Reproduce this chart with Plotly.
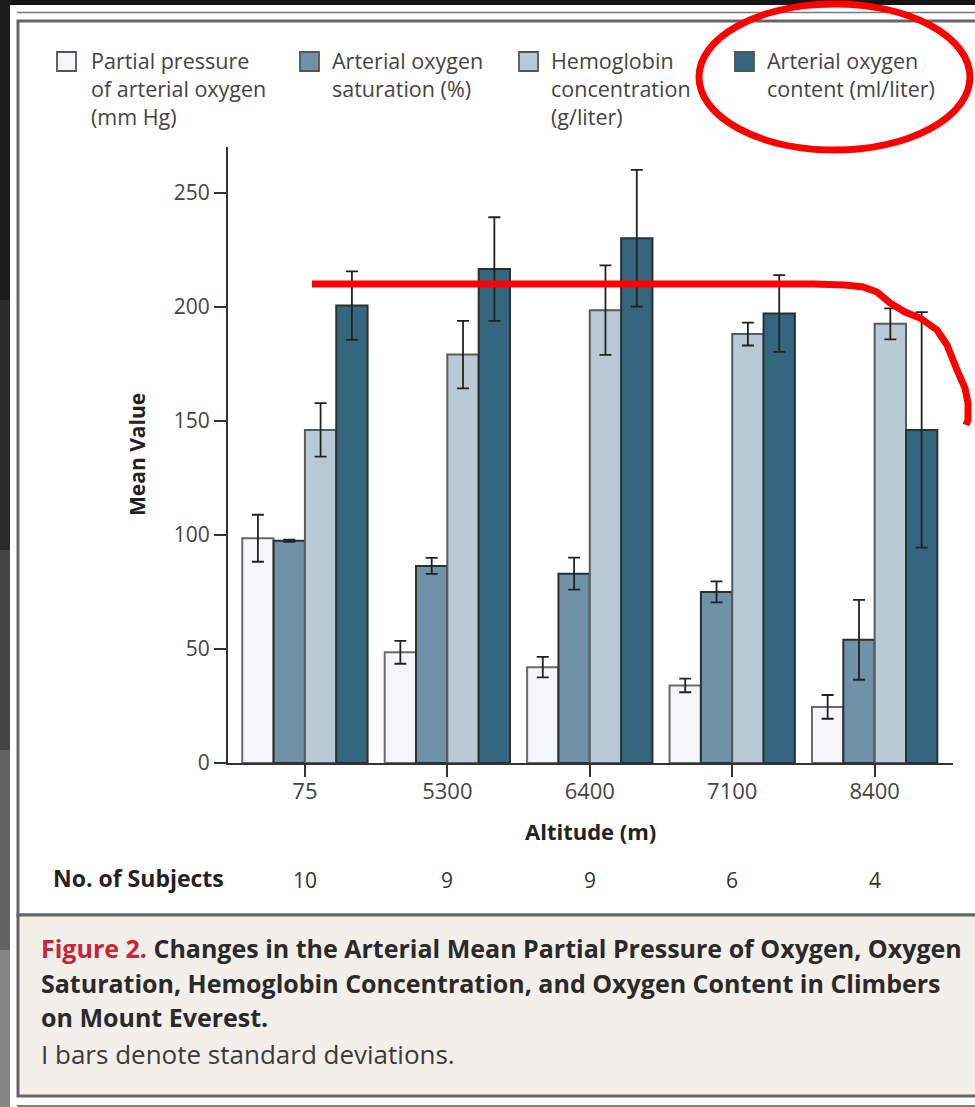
import plotly.graph_objects as go

# ---- data -------------------------------------------------------------
altitudes = ["75", "5300", "6400", "7100", "8400"]
subjects = [10, 9, 9, 6, 4]

pao2 = [98.5, 48.5, 42.0, 34.0, 24.6]
pao2_sd = [10.3, 5.0, 4.5, 3.0, 5.2]

sao2 = [97.4, 86.4, 83.0, 75.0, 54.0]
sao2_sd = [0.5, 3.5, 7.0, 4.6, 17.5]

hb = [146.0, 179.0, 198.5, 188.0, 192.5]
hb_sd = [11.7, 14.8, 19.6, 5.0, 6.8]

cao2 = [200.5, 216.5, 230.0, 197.0, 146.0]
cao2_sd = [15.0, 22.7, 30.0, 16.8, 51.6]

series_lines = [
    ["Partial pressure", "of arterial oxygen", "(mm Hg)"],
    ["Arterial oxygen", "saturation (%)"],
    ["Hemoglobin", "concentration", "(g/liter)"],
    ["Arterial oxygen", "content (ml/liter)"],
]

# ---- geometry of the page (pixels) -----------------------------------
PAGE_W, PAGE_H = 975, 1107
L, R, T, B = 228, 953, 147, 763
W, H = R - L, B - T


def px(x):
    return (x - L) / W


def py(y):
    return (B - y) / H


FONT = "Open Sans"
fills = ["#f5f6f8", "#6f92a8", "#b9cad7", "#35667f"]
edges = ["#6a6a6a", "#2e2e2e", "#5a5a5a", "#2e2e2e"]

fig = go.Figure()
for lines, vals, sds, fc, ec in zip(
    series_lines,
    [pao2, sao2, hb, cao2],
    [pao2_sd, sao2_sd, hb_sd, cao2_sd],
    fills,
    edges,
):
    fig.add_trace(
        go.Bar(
            x=altitudes,
            y=vals,
            name=" ".join(lines),
            marker=dict(color=fc, line=dict(color=ec, width=2)),
            error_y=dict(type="data", array=sds, visible=True,
                         color="#222222", thickness=1.8, width=6),
            showlegend=False,
        )
    )

shapes = []
# dark surround with a lighter lower-left strip
strip = [(0, 300, "#1c1c1c"), (300, 550, "#2a2a2a"), (550, 750, "#444444"),
         (750, 950, "#626262"), (950, 1107, "#858585")]
for y0, y1, c in strip:
    shapes.append(dict(type="rect", xref="paper", yref="paper", layer="below",
                       x0=px(0), x1=px(10), y0=py(y1), y1=py(y0),
                       fillcolor=c, line=dict(width=0)))
# white page
shapes.append(dict(type="rect", xref="paper", yref="paper", layer="below",
                   x0=px(10), x1=px(990), y0=py(1110), y1=py(5),
                   fillcolor="#ffffff", line=dict(width=0)))
# thin rule above the figure box
shapes.append(dict(type="line", xref="paper", yref="paper", layer="below",
                   x0=px(17), x1=px(990), y0=py(12.5), y1=py(12.5),
                   line=dict(color="#7a7a7a", width=1.5)))
# figure box
shapes.append(dict(type="rect", xref="paper", yref="paper", layer="below",
                   x0=px(18), x1=px(995), y0=py(915), y1=py(21),
                   fillcolor="#ffffff", line=dict(color="#666666", width=3)))
# caption box
shapes.append(dict(type="rect", xref="paper", yref="paper", layer="below",
                   x0=px(18), x1=px(995), y0=py(1096), y1=py(915),
                   fillcolor="#f3f0eb", line=dict(color="#666666", width=3)))
# rule under the caption box
shapes.append(dict(type="line", xref="paper", yref="paper", layer="below",
                   x0=px(17), x1=px(990), y0=py(1106), y1=py(1106),
                   line=dict(color="#555555", width=1.5)))

# legend swatches
swatch_x = [57, 300, 519, 735]
text_x = [89, 330, 549, 765]
for sx, fc in zip(swatch_x, fills):
    shapes.append(dict(type="rect", xref="paper", yref="paper",
                       x0=px(sx), x1=px(sx + 19), y0=py(71), y1=py(52),
                       fillcolor=fc, line=dict(color="#555555", width=1.8)))

# red hand-drawn marks
shapes.append(dict(type="circle", xref="paper", yref="paper",
                   x0=px(699), x1=px(970), y0=py(150), y1=py(4),
                   line=dict(color="#ff0000", width=7)))
stroke = [(312, 284), (813, 284), (845, 285), (863, 287), (877, 292),
          (890, 303), (905, 312), (920, 318), (937, 330), (947, 345),
          (957, 370), (965, 388), (968, 403), (968, 420), (966, 425)]
path = "M " + " L ".join(f"{px(x):.5f},{py(y):.5f}" for x, y in stroke)
shapes.append(dict(type="path", xref="paper", yref="paper", path=path,
                   line=dict(color="#ff0000", width=7)))

annotations = []
for tx, lines in zip(text_x, series_lines):
    annotations.append(dict(xref="paper", yref="paper", x=px(tx), y=py(44.5),
                            xanchor="left", yanchor="top", align="left",
                            text="<br>".join(lines), showarrow=False,
                            font=dict(family=FONT, size=21.5, color="#444444")))

annotations.append(dict(xref="paper", yref="paper", x=px(137), y=py(455),
                        text="<b>Mean Value</b>", textangle=-90, showarrow=False,
                        xanchor="center", yanchor="middle",
                        font=dict(family=FONT, size=21, color="#222222")))
annotations.append(dict(xref="paper", yref="paper", x=px(590), y=py(831),
                        text="<b>Altitude (m)</b>", showarrow=False,
                        xanchor="center", yanchor="middle",
                        font=dict(family=FONT, size=22, color="#222222")))
annotations.append(dict(xref="paper", yref="paper", x=px(51), y=py(878),
                        text="<b>No. of Subjects</b>", showarrow=False,
                        xanchor="left", yanchor="middle",
                        font=dict(family=FONT, size=23, color="#222222")))
for i, n in enumerate(subjects):
    annotations.append(dict(xref="x", yref="paper", x=i, y=py(880),
                            text=str(n), showarrow=False,
                            xanchor="center", yanchor="middle",
                            font=dict(family=FONT, size=21, color="#333333")))

caption_lines = [
    ("<span style='color:#cc2233'><b>Figure 2.</b></span> "
     "<b>Changes in the Arterial Mean Partial Pressure of Oxygen, Oxygen</b>", 948),
    ("<b>Saturation, Hemoglobin Concentration, and Oxygen Content in Climbers</b>", 983),
    ("<b>on Mount Everest.</b>", 1017),
]
for txt, y in caption_lines:
    annotations.append(dict(xref="paper", yref="paper", x=px(39), y=py(y),
                            text=txt, showarrow=False,
                            xanchor="left", yanchor="middle",
                            font=dict(family=FONT, size=25, color="#2a2a2a")))
annotations.append(dict(xref="paper", yref="paper", x=px(39), y=py(1054),
                        text="I bars denote standard deviations.", showarrow=False,
                        xanchor="left", yanchor="middle",
                        font=dict(family=FONT, size=26, color="#3a3a3a")))

fig.update_layout(
    width=PAGE_W,
    height=PAGE_H,
    margin=dict(l=L, r=PAGE_W - R, t=T, b=PAGE_H - B),
    paper_bgcolor="#151515",
    plot_bgcolor="rgba(0,0,0,0)",
    barmode="group",
    bargap=0.12,
    bargroupgap=0,
    shapes=shapes,
    annotations=annotations,
    font=dict(family=FONT, size=20, color="#444444"),
)
fig.update_xaxes(
    type="category",
    range=[-0.54, 4.55],
    showline=True, linecolor="#333333", linewidth=2,
    ticks="outside", ticklen=12, tickwidth=2, tickcolor="#333333",
    ticklabelstandoff=-4,
    tickfont=dict(family=FONT, size=22, color="#444444"),
    showgrid=False, zeroline=False,
)
fig.update_yaxes(
    range=[0, 270],
    tickvals=[0, 50, 100, 150, 200, 250],
    showline=True, linecolor="#333333", linewidth=2,
    ticks="outside", ticklen=12, tickwidth=2, tickcolor="#333333",
    tickfont=dict(family=FONT, size=21, color="#444444"),
    showgrid=False, zeroline=False,
)

fig.write_html("out.html")
